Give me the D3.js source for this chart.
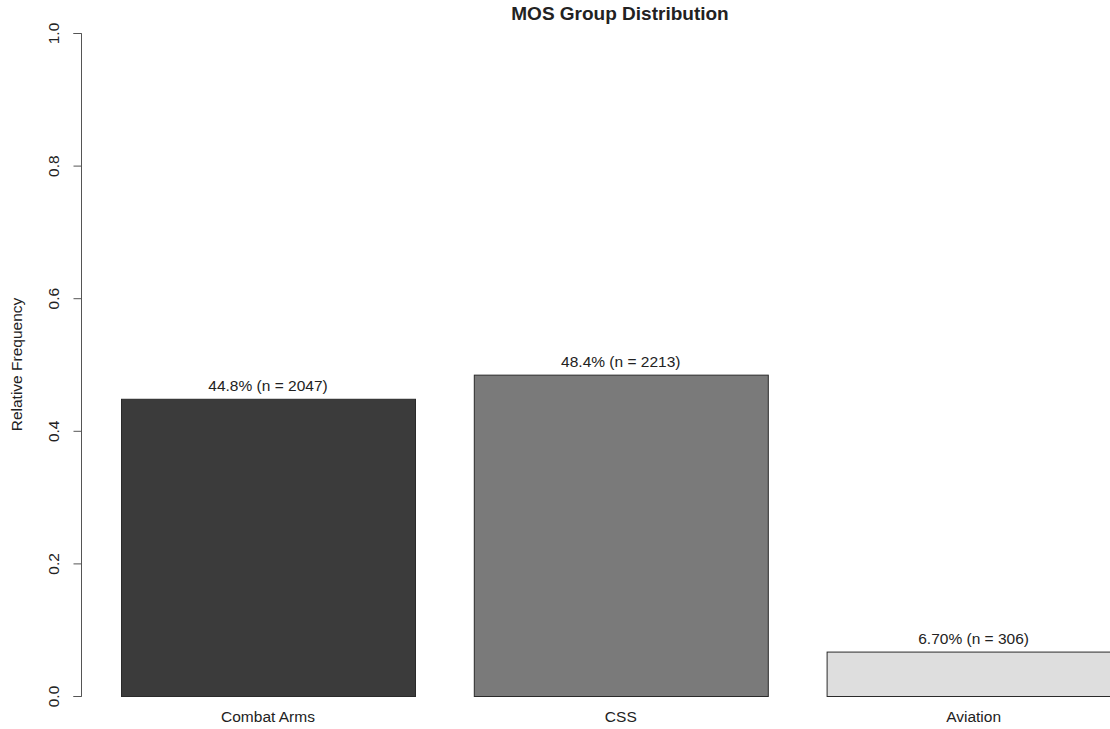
<!DOCTYPE html>
<html>
<head>
<meta charset="utf-8">
<script src="https://cdn.jsdelivr.net/npm/d3@7"></script>
<style>
html,body{margin:0;padding:0;background:#fff;}
svg{display:block;}
text{font-family:"Liberation Sans",Arial,sans-serif;fill:#222;}
</style>
</head>
<body>
<script>
const categories = ["Combat Arms", "CSS", "Aviation"];
const values = [0.4483, 0.4847, 0.0670];
const counts = [2047, 2213, 306];
const pctLabels = ["44.8%", "48.4%", "6.70%"];
const colors = ["#3b3b3b", "#7a7a7a", "#dedede"];
const yTicks = [0, 0.2, 0.4, 0.6, 0.8, 1.0];
const tickLabels = ["0.0", "0.2", "0.4", "0.6", "0.8", "1.0"];
const title = "MOS Group Distribution";
const yTitle = "Relative Frequency";

const W = 1110, H = 729;
const svg = d3.select("body").append("svg").attr("width", W).attr("height", H);

const y = d3.scaleLinear().domain([0, 1]).range([696, 33]);
const x = d3.scaleBand().domain(categories).range([121, 1120.6]).paddingInner(1/6).paddingOuter(0);
const axisX = 81;

const data = categories.map((c, i) => ({c, v: values[i], n: counts[i], p: pctLabels[i], col: colors[i]}));

// bars
svg.append("g").selectAll("rect").data(data).join("rect")
  .attr("x", d => x(d.c) + 0.5)
  .attr("y", d => y(d.v) + 0.5)
  .attr("width", x.bandwidth())
  .attr("height", d => y(0) - y(d.v))
  .attr("fill", d => d.col)
  .attr("stroke", "#2a2a2a")
  .attr("stroke-width", 1);

// value labels
svg.append("g").selectAll("text").data(data).join("text")
  .attr("x", d => x(d.c) + x.bandwidth() / 2)
  .attr("y", d => y(d.v) - 8)
  .attr("text-anchor", "middle")
  .style("font-size", "15.5px")
  .text(d => `${d.p} (n = ${d.n})`);

// category labels
svg.append("g").selectAll("text").data(data).join("text")
  .attr("x", d => x(d.c) + x.bandwidth() / 2)
  .attr("y", 722)
  .attr("text-anchor", "middle")
  .style("font-size", "15.5px")
  .text(d => d.c);

// y axis
const yAxis = d3.axisLeft(y).tickValues(yTicks).tickSize(8)
  .tickFormat((d, i) => tickLabels[i]);
const gy = svg.append("g").attr("transform", `translate(${axisX + 0.5},0)`).call(yAxis);
gy.select(".domain").attr("stroke", "#555").attr("d", `M-8,${y(0)+0.5}H0V${y(1)+0.5}H-8`);
gy.selectAll(".tick line").attr("stroke", "#555");
gy.selectAll(".tick text")
  .attr("transform", "rotate(-90)")
  .attr("x", 0).attr("y", -23)
  .attr("dy", "0")
  .attr("text-anchor", "middle")
  .style("font-size", "15.5px")
  .style("font-family", "'Liberation Sans',Arial,sans-serif")
  .attr("fill", "#222");

// y axis title
svg.append("text")
  .attr("transform", `translate(22,${(y(0) + y(1)) / 2}) rotate(-90)`)
  .attr("text-anchor", "middle")
  .style("font-size", "15.5px")
  .text(yTitle);

// title
svg.append("text")
  .attr("x", 620)
  .attr("y", 20)
  .attr("text-anchor", "middle")
  .style("font-size", "19px")
  .style("font-weight", "bold")
  .text(title);
</script>
</body>
</html>
